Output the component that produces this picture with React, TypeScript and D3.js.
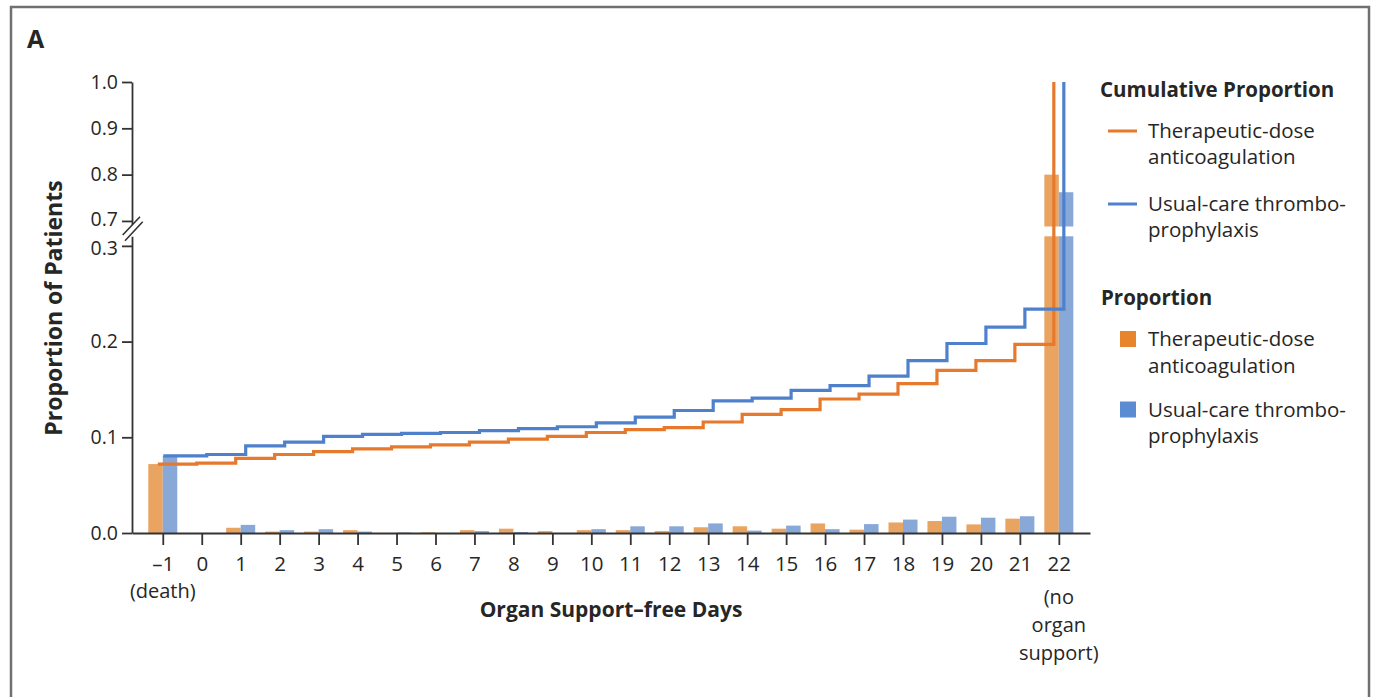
import React, { useEffect, useRef } from "react";
import * as d3 from "d3";

// organ support-free days, -1 = death, 22 = no organ support
const days = [-1, 0, 1, 2, 3, 4, 5, 6, 7, 8, 9, 10, 11, 12, 13, 14, 15, 16, 17, 18, 19, 20, 21, 22];
const dayLabels = ["\u20131", "0", "1", "2", "3", "4", "5", "6", "7", "8", "9", "10", "11", "12", "13", "14", "15", "16", "17", "18", "19", "20", "21", "22"];

// proportion of patients per day (bars)
const therapeuticBars = [0.072, 0, 0.0055, 0.0015, 0.0015, 0.003, 0, 0.0007, 0.003, 0.0045, 0.002, 0.003, 0.003, 0.002, 0.006, 0.007, 0.0045, 0.01, 0.0035, 0.011, 0.0125, 0.009, 0.015, 0.8];
const usualBars = [0.0805, 0, 0.0085, 0.003, 0.004, 0.0015, 0.0005, 0, 0.002, 0.001, 0, 0.004, 0.007, 0.007, 0.01, 0.0025, 0.0077, 0.004, 0.0093, 0.014, 0.017, 0.016, 0.0175, 0.762];

// cumulative proportion (step lines)
const therapeuticCum = [0.072, 0.073, 0.078, 0.082, 0.085, 0.088, 0.09, 0.092, 0.095, 0.098, 0.101, 0.105, 0.108, 0.11, 0.116, 0.124, 0.129, 0.14, 0.145, 0.156, 0.17, 0.18, 0.197, 1.0];
const usualCum = [0.0805, 0.082, 0.091, 0.095, 0.101, 0.103, 0.104, 0.105, 0.107, 0.109, 0.111, 0.115, 0.121, 0.128, 0.138, 0.141, 0.149, 0.154, 0.164, 0.18, 0.198, 0.215, 0.234, 1.0];

const yTicksUpper = [0.7, 0.8, 0.9, 1.0];
const yTicksLower = [0, 0.1, 0.2, 0.3];

const legendSeries = [
  { lines: ["Therapeutic-dose", "anticoagulation"], line: "#e6792b", box: "#e8842c" },
  { lines: ["Usual-care thrombo-", "prophylaxis"], line: "#4f80cc", box: "#5b8bd2" },
];

const FONT = "'Open Sans', 'DejaVu Sans', sans-serif";
const TEXT = "#262626";
const AXIS = "#333";

function App() {
  const ref = useRef<SVGSVGElement>(null);

  useEffect(() => {
    const svg = d3.select(ref.current);
    svg.selectAll("*").remove();

    const x = d3.scaleLinear().domain([-1.79, 22.8]).range([132, 1090]);
    const yLow = d3.scaleLinear().domain([0, 0.31]).range([533, 236.3]);
    const yHigh = d3.scaleLinear().domain([0.688, 1.0]).range([226.5, 82]);
    const yAny = (v: number) => (v > 0.5 ? yHigh(v) : yLow(v));
    const barW = 14.5;

    // frame
    svg.append("rect")
      .attr("x", 11).attr("y", 7)
      .attr("width", 1358).attr("height", 720)
      .attr("fill", "#fff")
      .attr("stroke", "#707070")
      .attr("stroke-width", 2.5);

    svg.append("text")
      .attr("x", 27).attr("y", 48)
      .attr("font-family", FONT).attr("font-weight", 700)
      .attr("font-size", 25).attr("fill", TEXT)
      .text("A");

    // bars
    const drawBars = (vals: number[], color: string, dx: number) => {
      const g = svg.append("g").attr("fill", color);
      vals.forEach((v, i) => {
        const x0 = x(days[i]) + dx;
        if (v <= 0) return;
        if (v <= 0.31) {
          g.append("rect").attr("x", x0).attr("width", barW)
            .attr("y", yLow(v)).attr("height", yLow(0) - yLow(v));
        } else {
          g.append("rect").attr("x", x0).attr("width", barW)
            .attr("y", yLow(0.31)).attr("height", yLow(0) - yLow(0.31));
          g.append("rect").attr("x", x0).attr("width", barW)
            .attr("y", yHigh(v)).attr("height", yHigh(0.688) - yHigh(v));
        }
      });
    };
    drawBars(therapeuticBars, "#eaa462", -barW);
    drawBars(usualBars, "#88a8d7", 0);

    // axes
    const styleAxis = (g: any, size: number) => {
      g.attr("color", AXIS).attr("font-family", FONT).attr("font-size", size);
      g.selectAll("line, path").attr("stroke-width", 1.8);
      g.selectAll("text").attr("fill", TEXT);
    };

    const xAxis = d3.axisBottom(x)
      .tickValues(days)
      .tickFormat((d: any, i: number) => dayLabels[i])
      .tickSize(12).tickSizeOuter(0).tickPadding(11);
    svg.append("g").attr("transform", "translate(0,533)").call(xAxis).call(styleAxis, 20.5);

    const yAxisLow = d3.axisLeft(yLow).tickValues(yTicksLower)
      .tickFormat(d3.format(".1f")).tickSize(10).tickSizeOuter(0).tickPadding(4);
    const yAxisHigh = d3.axisLeft(yHigh).tickValues(yTicksUpper)
      .tickFormat(d3.format(".1f")).tickSize(10).tickSizeOuter(0).tickPadding(4);
    const gLow = svg.append("g").attr("transform", "translate(132,0)").call(yAxisLow).call(styleAxis, 19.5);
    const gHigh = svg.append("g").attr("transform", "translate(132,0)").call(yAxisHigh).call(styleAxis, 19.5);
    // labels next to the break sit tight in the original; ease them apart a little
    gLow.selectAll(".tick text").filter((d: any) => d === 0.3).attr("dy", "0.42em");
    gHigh.selectAll(".tick text").filter((d: any) => d === 0.7).attr("dy", "0.24em");

    // axis break marks
    svg.append("path")
      .attr("d", "M122.7,235 L140,216.7 L142.7,221.7 L125,240.7 Z")
      .attr("fill", "#fff");
    svg.append("path")
      .attr("d", "M122.7,235 L140,216.7 M125,240.7 L142.7,221.7")
      .attr("stroke", AXIS).attr("stroke-width", 1.6).attr("fill", "none");

    // cumulative step lines
    const stepLine = d3.line<[number, number]>().curve(d3.curveStepAfter);
    const drawCum = (vals: number[], color: string, off: number, startOff: number) => {
      const pts: [number, number][] = vals.map((v, i) => [
        x(days[i]) + (i === 0 ? startOff : off),
        yAny(v),
      ]);
      svg.append("path")
        .attr("d", stepLine(pts))
        .attr("fill", "none")
        .attr("stroke", color)
        .attr("stroke-width", 3.2)
        .attr("stroke-linejoin", "miter");
    };
    drawCum(therapeuticCum, "#e6792b", -5, -5);
    drawCum(usualCum, "#4f80cc", 5, 0.5);

    // extra x labels
    const label = (txt: string, xx: number, yy: number, weight = 400, size = 20) =>
      svg.append("text")
        .attr("x", xx).attr("y", yy)
        .attr("text-anchor", "middle")
        .attr("font-family", FONT).attr("font-weight", weight)
        .attr("font-size", size).attr("fill", TEXT)
        .text(txt);
    label("(death)", x(-1), 598);
    label("(no", x(22), 604);
    label("organ", x(22), 632);
    label("support)", x(22), 660);
    label("Organ Support\u2013free Days", 611, 617, 700, 21);

    svg.append("text")
      .attr("transform", "translate(62,308) rotate(-90)")
      .attr("text-anchor", "middle")
      .attr("font-family", FONT).attr("font-weight", 700)
      .attr("font-size", 23).attr("fill", TEXT)
      .text("Proportion of Patients");

    // legend
    const lg = svg.append("g").attr("font-family", FONT).attr("fill", TEXT);
    lg.append("text").attr("x", 1100).attr("y", 97)
      .attr("font-weight", 700).attr("font-size", 20.5).text("Cumulative Proportion");
    lg.append("text").attr("x", 1101).attr("y", 305)
      .attr("font-weight", 700).attr("font-size", 20.5).text("Proportion");

    const lineRows = [131, 204];
    const boxRows = [339, 409.5];
    legendSeries.forEach((s, i) => {
      lg.append("line")
        .attr("x1", 1108).attr("x2", 1137)
        .attr("y1", lineRows[i]).attr("y2", lineRows[i])
        .attr("stroke", s.line).attr("stroke-width", 3);
      s.lines.forEach((t, j) => {
        lg.append("text").attr("x", 1148).attr("y", lineRows[i] + 6.5 + j * 26.5)
          .attr("font-size", 20.5).text(t);
      });
      lg.append("rect")
        .attr("x", 1120).attr("y", boxRows[i] - 8)
        .attr("width", 16).attr("height", 16)
        .attr("fill", s.box);
      s.lines.forEach((t, j) => {
        lg.append("text").attr("x", 1148).attr("y", boxRows[i] + 7 + j * 26.5)
          .attr("font-size", 20.5).text(t);
      });
    });
  }, []);

  return (
    <svg
      ref={ref}
      width={1383}
      height={697}
      style={{ position: "absolute", left: 0, top: 0, background: "#fff" }}
    />
  );
}

export default App;
